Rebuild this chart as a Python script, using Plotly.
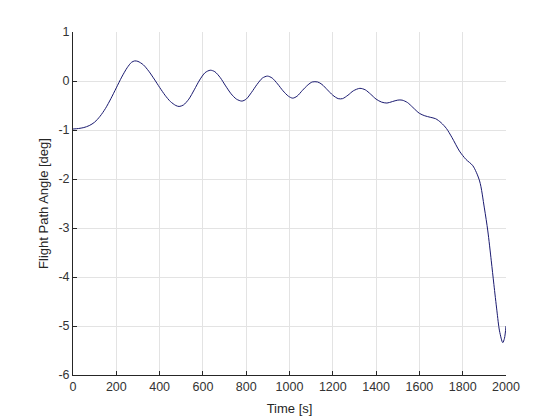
import plotly.graph_objects as go

time_s = [0, 25, 50, 75, 100, 125, 150, 175, 200, 225, 250, 270, 285, 300, 325, 350, 375, 400,
          425, 450, 475, 490, 510, 535, 560, 585, 610, 634, 655, 680, 705, 730, 755, 780, 800,
          825, 850, 875, 898, 920, 945, 970, 995, 1015, 1035, 1060, 1085, 1105, 1130, 1150,
          1175, 1200, 1225, 1245, 1270, 1295, 1325, 1350, 1375, 1400, 1425, 1450, 1475, 1500,
          1520, 1545, 1570, 1600, 1625, 1650, 1675, 1700, 1725, 1750, 1785, 1815, 1847,
          1878, 1900, 1916, 1932, 1944, 1958, 1970, 1985, 1993, 2000]
gamma_deg = [-0.98, -0.97, -0.95, -0.91, -0.84, -0.72, -0.56, -0.36, -0.14, 0.08, 0.27, 0.38,
             0.41, 0.40, 0.33, 0.20, 0.04, -0.13, -0.29, -0.42, -0.50, -0.52, -0.49, -0.37,
             -0.18, 0.02, 0.17, 0.22, 0.19, 0.07, -0.10, -0.26, -0.37, -0.41, -0.37, -0.23,
             -0.07, 0.06, 0.10, 0.06, -0.06, -0.20, -0.31, -0.35, -0.31, -0.19, -0.08, -0.02,
             -0.02, -0.07, -0.18, -0.29, -0.36, -0.36, -0.29, -0.20, -0.15, -0.18, -0.27, -0.37,
             -0.43, -0.45, -0.42, -0.39, -0.39, -0.44, -0.54, -0.66, -0.71, -0.74, -0.77, -0.85,
             -0.97, -1.15, -1.43, -1.60, -1.73, -2.04, -2.59, -3.06, -3.67, -4.15, -4.69, -5.10,
             -5.34, -5.25, -5.00]

x_ticks = [0, 200, 400, 600, 800, 1000, 1200, 1400, 1600, 1800, 2000]
y_ticks = [-6, -5, -4, -3, -2, -1, 0, 1]
y_tick_labels = ["-6", "-5", "-4", "-3", "-2", "-1", "0", "1"]

fig = go.Figure()
fig.add_trace(go.Scatter(x=time_s, y=gamma_deg, mode="lines",
                         line=dict(color="#1a1a70", width=1, shape="spline", smoothing=0.8)))

axis_common = dict(showgrid=True, gridcolor="#e3e3e3", gridwidth=1, zeroline=False,
                   showline=True, linecolor="#262626", linewidth=1, mirror=False,
                   ticks="inside", ticklen=4, tickcolor="#262626", automargin=False,
                   tickfont=dict(family="Liberation Sans, Arial", size=12.5, color="#333333"))

fig.update_layout(
    width=560, height=420,
    margin=dict(l=65, r=62, t=24, b=53),
    paper_bgcolor="white", plot_bgcolor="white",
    showlegend=False,
    xaxis=dict(range=[0, 2000], tickvals=x_ticks,
               title=dict(text="Time [s]", standoff=10,
                          font=dict(family="Liberation Sans, Arial", size=13, color="#262626")),
               **axis_common),
    yaxis=dict(range=[-6, 1], tickvals=y_ticks, ticktext=y_tick_labels,
               title=dict(text="Flight Path Angle [deg]", standoff=6,
                          font=dict(family="Liberation Sans, Arial", size=13, color="#262626")),
               **axis_common),
)

fig.write_html("out.html")
